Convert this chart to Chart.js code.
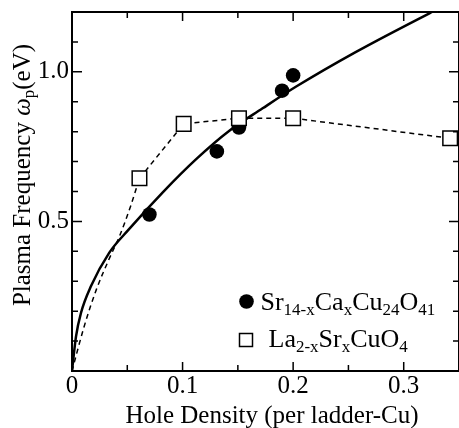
<!DOCTYPE html>
<html>
<head>
<meta charset="utf-8">
<script src="https://cdn.jsdelivr.net/npm/chart.js@4"></script>
<style>
  body { margin: 0; background: #fff; }
  #wrap { width: 459px; height: 428px; }
</style>
</head>
<body>
<div id="wrap"><canvas id="plasmaChart" width="459" height="428"></canvas></div>
<script>
/**** data ****/
// Sr14-xCaxCu24O41 (filled circles)
const srX = [0.070, 0.131, 0.151, 0.190, 0.200];
const srY = [0.523, 0.734, 0.814, 0.937, 0.988];
// La2-xSrxCuO4 (open squares)
const laX = [0.061, 0.101, 0.151, 0.200, 0.342];
const laY = [0.644, 0.826, 0.845, 0.845, 0.778];
// dashed guide from origin to the first La point
const guideX = [0, 0.011, 0.022, 0.034, 0.043, 0.053, 0.061];
const guideY = [0, 0.149, 0.272, 0.378, 0.451, 0.551, 0.644];
// solid fit curve
const fitX = [0, 0.0036, 0.0081, 0.0171, 0.0336, 0.0516, 0.0823, 0.1123, 0.1423, 0.1724, 0.2024, 0.2565, 0.3255, 0.345];
const fitY = [0, 0.115, 0.194, 0.283, 0.395, 0.474, 0.598, 0.708, 0.803, 0.878, 0.950, 1.066, 1.200, 1.236];

// tick labels
const xLabels = [0, 0.1, 0.2, 0.3];
const yLabels = [0.5, 1.0];

const serif = '"Liberation Serif", "DejaVu Serif", serif';

function pts(xs, ys) {
  return xs.map((x, i) => ({x: x, y: ys[i]}));
}
function near(v, list) {
  return list.some(t => Math.abs(v - t) < 1e-6);
}
// keep the plot box where the figure has it
function noPad(s) {
  s.paddingLeft = 0; s.paddingRight = 0;
  s.paddingTop = 0; s.paddingBottom = 0;
}

/**** frame + inward ticks ****/
const framePlugin = {
  id: 'frame',
  afterDatasetsDraw(chart) {
    const ctx = chart.ctx;
    const a = chart.chartArea;
    const xs = chart.scales.x, ys = chart.scales.y;
    ctx.save();
    ctx.strokeStyle = '#000';
    ctx.lineWidth = 2;
    ctx.strokeRect(a.left, a.top, a.right - a.left, a.bottom - a.top);
    ctx.lineWidth = 1.5;
    ctx.beginPath();
    xs.ticks.forEach(t => {
      if (t.value <= xs.min || t.value >= xs.max) return;
      const px = xs.getPixelForValue(t.value);
      const len = near(t.value, xLabels) ? 9 : 6;
      ctx.moveTo(px, a.bottom); ctx.lineTo(px, a.bottom - len);
      ctx.moveTo(px, a.top); ctx.lineTo(px, a.top + len);
    });
    ys.ticks.forEach(t => {
      if (t.value <= ys.min || t.value >= ys.max) return;
      const py = ys.getPixelForValue(t.value);
      const len = near(t.value, yLabels) ? 10 : 6;
      ctx.moveTo(a.left, py); ctx.lineTo(a.left + len, py);
      ctx.moveTo(a.right, py); ctx.lineTo(a.right - len, py);
    });
    ctx.stroke();
    ctx.restore();
  }
};

// draw a run of [text, size, dy, italic] pieces from (x, y)
function drawRun(ctx, parts, x, y) {
  parts.forEach(p => {
    ctx.font = (p[3] ? 'italic ' : '') + p[1] + 'px ' + serif;
    ctx.fillText(p[0], x, y + p[2]);
    x += ctx.measureText(p[0]).width;
  });
  return x;
}
function runWidth(ctx, parts) {
  let w = 0;
  parts.forEach(p => {
    ctx.font = (p[3] ? 'italic ' : '') + p[1] + 'px ' + serif;
    w += ctx.measureText(p[0]).width;
  });
  return w;
}

/**** titles and legend with subscripts ****/
const textPlugin = {
  id: 'texts',
  afterDraw(chart) {
    const ctx = chart.ctx;
    ctx.save();
    ctx.fillStyle = '#000';
    ctx.textBaseline = 'alphabetic';
    ctx.textAlign = 'left';

    // x title
    const xt = [['Hole Density (per ladder-Cu)', 25, 0]];
    drawRun(ctx, xt, 272 - runWidth(ctx, xt) / 2, 423);

    // y title, rotated
    const yt = [['Plasma Frequency ', 25, 0], ['\u03c9', 25, 0, true], ['p', 17, 4], ['(eV)', 25, 0]];
    ctx.save();
    ctx.translate(30, 175);
    ctx.rotate(-Math.PI / 2);
    drawRun(ctx, yt, -runWidth(ctx, yt) / 2, 0);
    ctx.restore();

    // legend row 1: filled circle
    ctx.beginPath();
    ctx.arc(246.5, 301.5, 7.3, 0, Math.PI * 2);
    ctx.fill();
    drawRun(ctx, [['Sr', 26, 0], ['14-x', 17, 5], ['Ca', 26, 0], ['x', 17, 5],
                  ['Cu', 26, 0], ['24', 17, 5], ['O', 26, 0], ['41', 17, 5]], 260.5, 310);

    // legend row 2: open square
    ctx.lineWidth = 1.5;
    ctx.strokeStyle = '#000';
    ctx.strokeRect(239.5, 333.5, 13, 13);
    drawRun(ctx, [['La', 26, 0], ['2-x', 17, 5], ['Sr', 26, 0], ['x', 17, 5],
                  ['CuO', 26, 0], ['4', 17, 5]], 268.5, 347);
    ctx.restore();
  }
};

const config = {
  type: 'scatter',
  data: {
    datasets: [
      {
        label: 'La2-xSrxCuO4',
        type: 'line',
        data: pts(laX, laY),
        order: 0,
        showLine: true,
        borderColor: '#000',
        borderWidth: 1.5,
        borderDash: [5, 4],
        tension: 0,
        pointStyle: 'rect',
        pointRadius: 10.3,
        pointBorderWidth: 1.5,
        pointBackgroundColor: '#fff',
        pointBorderColor: '#000'
      },
      {
        label: 'Sr14-xCaxCu24O41',
        data: pts(srX, srY),
        order: 1,
        pointStyle: 'circle',
        pointRadius: 7.3,
        pointBorderWidth: 0,
        pointBackgroundColor: '#000',
        pointBorderColor: '#000'
      },
      {
        label: 'fit',
        type: 'line',
        data: pts(fitX, fitY),
        order: 2,
        borderColor: '#000',
        borderWidth: 2.5,
        cubicInterpolationMode: 'monotone',
        pointRadius: 0
      },
      {
        label: 'guide',
        type: 'line',
        data: pts(guideX, guideY),
        order: 3,
        borderColor: '#000',
        borderWidth: 1.5,
        borderDash: [5, 4],
        cubicInterpolationMode: 'monotone',
        pointRadius: 0
      }
    ]
  },
  options: {
    responsive: false,
    animation: false,
    events: [],
    layout: { autoPadding: false, padding: { top: 12, right: -1.5, left: 0, bottom: 0 } },
    plugins: {
      legend: { display: false },
      tooltip: { enabled: false }
    },
    scales: {
      x: {
        type: 'linear',
        min: 0,
        max: 0.35,
        afterFit(s) { s.height = 57; noPad(s); },
        grid: { display: false, drawTicks: false, tickLength: 0 },
        border: { display: false },
        ticks: {
          stepSize: 0.05,
          autoSkip: false,
          maxRotation: 0,
          padding: 0,
          color: '#000',
          font: { family: serif, size: 25 },
          callback(v) {
            if (!near(v, xLabels)) return '';
            return v === 0 ? '0' : v.toFixed(1);
          }
        }
      },
      y: {
        type: 'linear',
        min: 0,
        max: 1.2,
        afterFit(s) { s.width = 72; noPad(s); },
        grid: { display: false, drawTicks: false, tickLength: 0 },
        border: { display: false },
        ticks: {
          stepSize: 0.1,
          autoSkip: false,
          padding: 3,
          color: '#000',
          font: { family: serif, size: 25 },
          callback(v) {
            return near(v, yLabels) ? v.toFixed(1) : '';
          }
        }
      }
    }
  },
  plugins: [framePlugin, textPlugin]
};

var plasmaChart = new Chart(document.getElementById('plasmaChart'), config);
</script>
</body>
</html>
